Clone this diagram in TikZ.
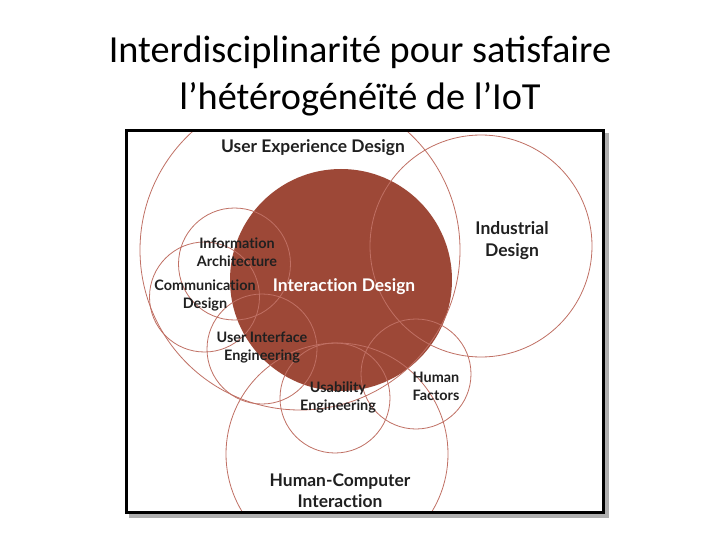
\documentclass[tikz,border=0pt]{standalone}
\usepackage{fontspec}
\setmainfont{Carlito}
\newfontfamily\lato{Lato}[UprightFont=*-Bold, Ligatures=NoCommon]
\usepackage{tikz}
\definecolor{ringc}{RGB}{192,112,100}
\definecolor{ixdfill}{RGB}{157,72,55}
\definecolor{labelc}{RGB}{32,32,32}
\definecolor{shadowc}{RGB}{175,175,175}

\begin{document}
\begin{tikzpicture}[x=1pt, y=-1pt, every node/.style={inner sep=0pt}]
\tikzstyle{ttl}=[anchor=base, font=\fontsize{38.3}{46}\selectfont]
\tikzstyle{ring}=[draw=ringc, line width=0.8pt]
\tikzstyle{lbl}=[align=center, text=labelc, font=\lato\fontsize{14.4}{18}\selectfont]
\tikzstyle{big}=[lbl, font=\lato\fontsize{17.4}{21}\selectfont]
\useasboundingbox (0,0) rectangle (720,540);
% title
\node[ttl] (t1) at (360,63) {Interdisciplinarité pour satisfaire};
\node[ttl] (t2) at (360,110) {l’hétérogénéïté de l’IoT};
% frame with shadow
\fill[shadowc] (129,133) rectangle (609,518);
\fill[white] (125,129) rectangle (605,514);
\begin{scope}
\clip (126.5,130.5) rectangle (603.5,512.5);
\fill[ixdfill] (341,280) circle[radius=111pt];
\draw[ring] (300,250) circle[radius=160pt];
\draw[ring] (481,246) circle[radius=111pt];
\draw[ring] (234.5,264) circle[radius=56pt];
\draw[ring] (204.5,297) circle[radius=55pt];
\draw[ring] (262,349) circle[radius=55pt];
\draw[ring] (335,398) circle[radius=55pt];
\draw[ring] (416,374) circle[radius=55pt];
\draw[ring] (337,454) circle[radius=111pt];
\end{scope}
\draw[line width=3pt] (126.5,130.5) rectangle (603.5,512.5);
% labels
\node[big] (ux) at (313,148) {User Experience Design};
\node[big, font=\lato\fontsize{17.5}{22}\selectfont] (ind) at (512,241) {Industrial\\Design};
\node[big, text=white] (ixd) at (344,287) {Interaction Design};
\node[lbl] (ia) at (237,252) {Information\\Architecture};
\node[lbl] (cd) at (205,295) {Communication\\Design};
\node[lbl] (uie) at (262,348) {User Interface\\Engineering};
\node[lbl] (ue) at (338,397) {Usability\\Engineering};
\node[lbl] (hf) at (436,386) {Human\\Factors};
\node[big] (hci) at (340,491) {Human-Computer\\Interaction};
\end{tikzpicture}
\end{document}
